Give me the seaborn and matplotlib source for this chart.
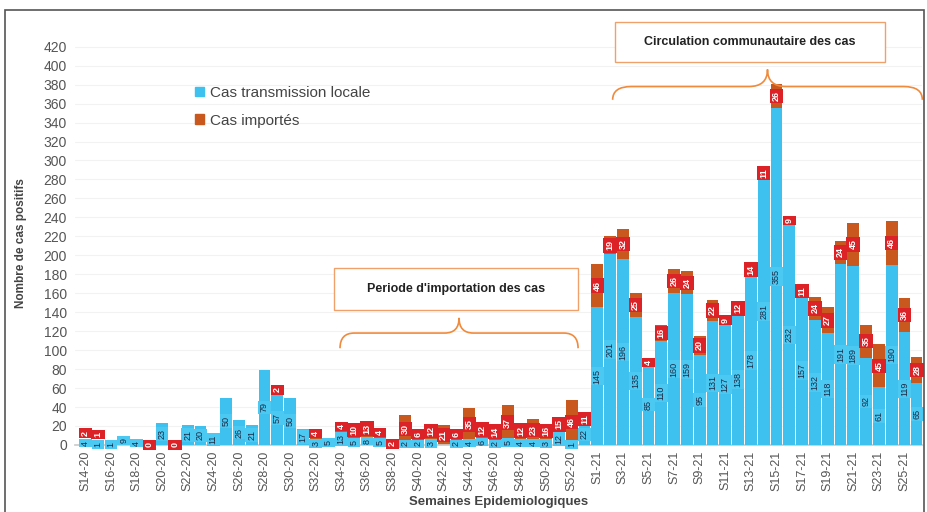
import matplotlib
matplotlib.use("Agg")
import matplotlib.pyplot as plt
from matplotlib.path import Path
from matplotlib.patches import PathPatch, Rectangle, Patch
import pandas as pd
import seaborn as sns

# ── Data ──────────────────────────────────────────────────────────────────────
weeks = [
    "S14-20", "S15-20", "S16-20", "S17-20", "S18-20", "S19-20", "S20-20", "S21-20",
    "S22-20", "S23-20", "S24-20", "S25-20", "S26-20", "S27-20", "S28-20", "S29-20",
    "S30-20", "S31-20", "S32-20", "S33-20", "S34-20", "S35-20", "S36-20", "S37-20",
    "S38-20", "S39-20", "S40-20", "S41-20", "S42-20", "S43-20", "S44-20", "S45-20",
    "S46-20", "S47-20", "S48-20", "S49-20", "S50-20", "S51-20", "S52-20", "S53-20",
    "S1-21", "S2-21", "S3-21", "S4-21", "S5-21", "S6-21", "S7-21", "S8-21",
    "S9-21", "S10-21", "S11-21", "S12-21", "S13-21", "S14-21", "S15-21", "S16-21",
    "S17-21", "S18-21", "S19-21", "S20-21", "S21-21", "S22-21", "S23-21", "S24-21",
    "S25-21", "S26-21",
]
local_cases = [
    4, 1, 1, 9, 4, 0, 23, 0, 21, 20,
    11, 50, 26, 21, 79, 57, 50, 17, 3, 5,
    13, 5, 8, 5, 0, 2, 2, 3, 0, 2,
    4, 6, 2, 5, 4, 4, 3, 12, 1, 22,
    145, 201, 196, 135, 85, 110, 160, 159, 95, 131,
    127, 138, 178, 281, 355, 232, 157, 132, 118, 191,
    189, 92, 61, 190, 119, 65,
]
imported_cases = [
    2, 1, 0, 0, 0, 0, 0, 0, 0, 0,
    0, 0, 0, 0, 0, 2, 0, 0, 4, 0,
    4, 10, 13, 4, 2, 30, 6, 12, 21, 6,
    35, 12, 14, 37, 12, 23, 16, 15, 46, 11,
    46, 19, 32, 25, 4, 16, 26, 24, 20, 22,
    9, 12, 14, 11, 26, 9, 11, 24, 27, 24,
    45, 35, 45, 46, 36, 28,
]

df = pd.DataFrame({"week": weeks, "local": local_cases, "imported": imported_cases})
df["total"] = df["local"] + df["imported"]

BLUE   = "#3fc1ef"
ORANGE = "#c9581f"
RED    = "#dc2226"

sns.set_theme(style="white")
plt.rcParams["font.family"] = ["Liberation Sans", "DejaVu Sans"]

fig = plt.figure(figsize=(9.27, 5.12), dpi=100)
ax = fig.add_axes([0.081, 0.131, 0.914, 0.787])

# stacked bars: total (orange) behind, local (blue) in front
sns.barplot(data=df, x="week", y="total", color=ORANGE, saturation=1,
            width=0.92, linewidth=0, ax=ax, zorder=2)
sns.barplot(data=df, x="week", y="local", color=BLUE, saturation=1,
            width=0.92, linewidth=0, ax=ax, zorder=3)

# ── value labels ──────────────────────────────────────────────────────────────
for i, row in df.iterrows():
    loc_txt, imp_txt = str(row["local"]), str(row["imported"])
    if row["local"] > 0:
        ax.text(i, row["local"] / 2, loc_txt, rotation=90,
                ha="center", va="center", fontsize=6.5, color="#1b2a44", zorder=5,
                bbox=dict(boxstyle="square,pad=0.2", fc="#4cc9f3", ec="none"))
    if row["imported"] > 0 or row["local"] == 0:
        y_imp = row["local"] + row["imported"] / 2
        if row["local"] > 0:
            # keep small red boxes clear of the blue label below
            y_imp = max(y_imp, row["local"] / 2 + 2.7 * (len(loc_txt) + len(imp_txt)) + 5)
        ax.text(i, y_imp, imp_txt,
                rotation=90, ha="center", va="center", fontsize=6.5, color="white",
                fontweight="bold", zorder=6,
                bbox=dict(boxstyle="square,pad=0.25", fc=RED, ec="none"))

# ── axes styling ──────────────────────────────────────────────────────────────
ax.set_xlim(-0.8, 65.4)
ax.set_ylim(0, 425)
ax.set_yticks(range(0, 421, 20))
ax.tick_params(axis="y", labelsize=10, labelcolor="#555555", length=0, pad=6)
ax.set_xticks(range(0, len(weeks), 2))
ax.set_xticklabels(weeks[::2], rotation=90, fontsize=9, color="#555555")
ax.tick_params(axis="x", length=0, pad=4)
ax.yaxis.grid(True, color="#f2f2f2", lw=0.8)
ax.set_axisbelow(True)
for side in ["top", "right", "left"]:
    ax.spines[side].set_visible(False)
ax.spines["bottom"].set_color("#cccccc")
ax.set_xlabel("Semaines Epidemiologiques", fontsize=9.5, fontweight="bold",
              color="#444444", labelpad=4)
ax.set_ylabel("Nombre de cas positifs", fontsize=8.5, fontweight="bold",
              color="#444444", labelpad=12)

# legend
handles = [Patch(color=BLUE, label="Cas transmission locale"),
           Patch(color=ORANGE, label="Cas importés")]
leg = ax.legend(handles=handles, loc="upper left", bbox_to_anchor=(0.125, 0.925),
                frameon=False, fontsize=11, handlelength=0.6, handleheight=0.6,
                handletextpad=0.4, labelspacing=0.9)
for t in leg.get_texts():
    t.set_color("#444444")


# ── braces and period boxes ───────────────────────────────────────────────────
def brace(x0, x1, y_end, y_arm, y_tip):
    xm = (x0 + x1) / 2
    d = (x1 - x0) * 0.06
    verts = [(x0, y_end), (x0, y_arm), (x0 + d, y_arm),
             (xm - d, y_arm),
             (xm, y_arm), (xm, y_tip),
             (xm, y_arm), (xm + d, y_arm),
             (x1 - d, y_arm),
             (x1, y_arm), (x1, y_end)]
    codes = [Path.MOVETO, Path.CURVE3, Path.CURVE3,
             Path.LINETO,
             Path.CURVE3, Path.CURVE3,
             Path.CURVE3, Path.CURVE3,
             Path.LINETO,
             Path.CURVE3, Path.CURVE3]
    ax.add_patch(PathPatch(Path(verts, codes), fill=False, ec="#f08a3c",
                           lw=1.2, zorder=4, clip_on=False))


brace(19.9, 38.5, 102, 118, 134)
brace(41.2, 65.4, 364, 378, 396)

ax.add_patch(Rectangle((19.4, 142), 19.1, 45, fill=True, fc="white",
                       ec="#f0a06a", lw=1, zorder=4, clip_on=False))
ax.text(28.95, 164.5, "Periode d'importation des cas", ha="center", va="center",
        fontsize=9, fontweight="bold", color="#222222", zorder=5)
ax.add_patch(Rectangle((41.4, 404), 21.1, 42, fill=True, fc="white",
                       ec="#f0a06a", lw=1, zorder=4, clip_on=False))
ax.text(51.95, 425, "Circulation communautaire des cas", ha="center", va="center",
        fontsize=9, fontweight="bold", color="#222222", zorder=5, clip_on=False)

# frame around the picture
fig.patches.append(Rectangle((0.005, -0.01), 0.992, 0.99, transform=fig.transFigure,
                             fill=False, ec="#555555", lw=1.2))

plt.savefig("out.png", dpi=100)
plt.close()
